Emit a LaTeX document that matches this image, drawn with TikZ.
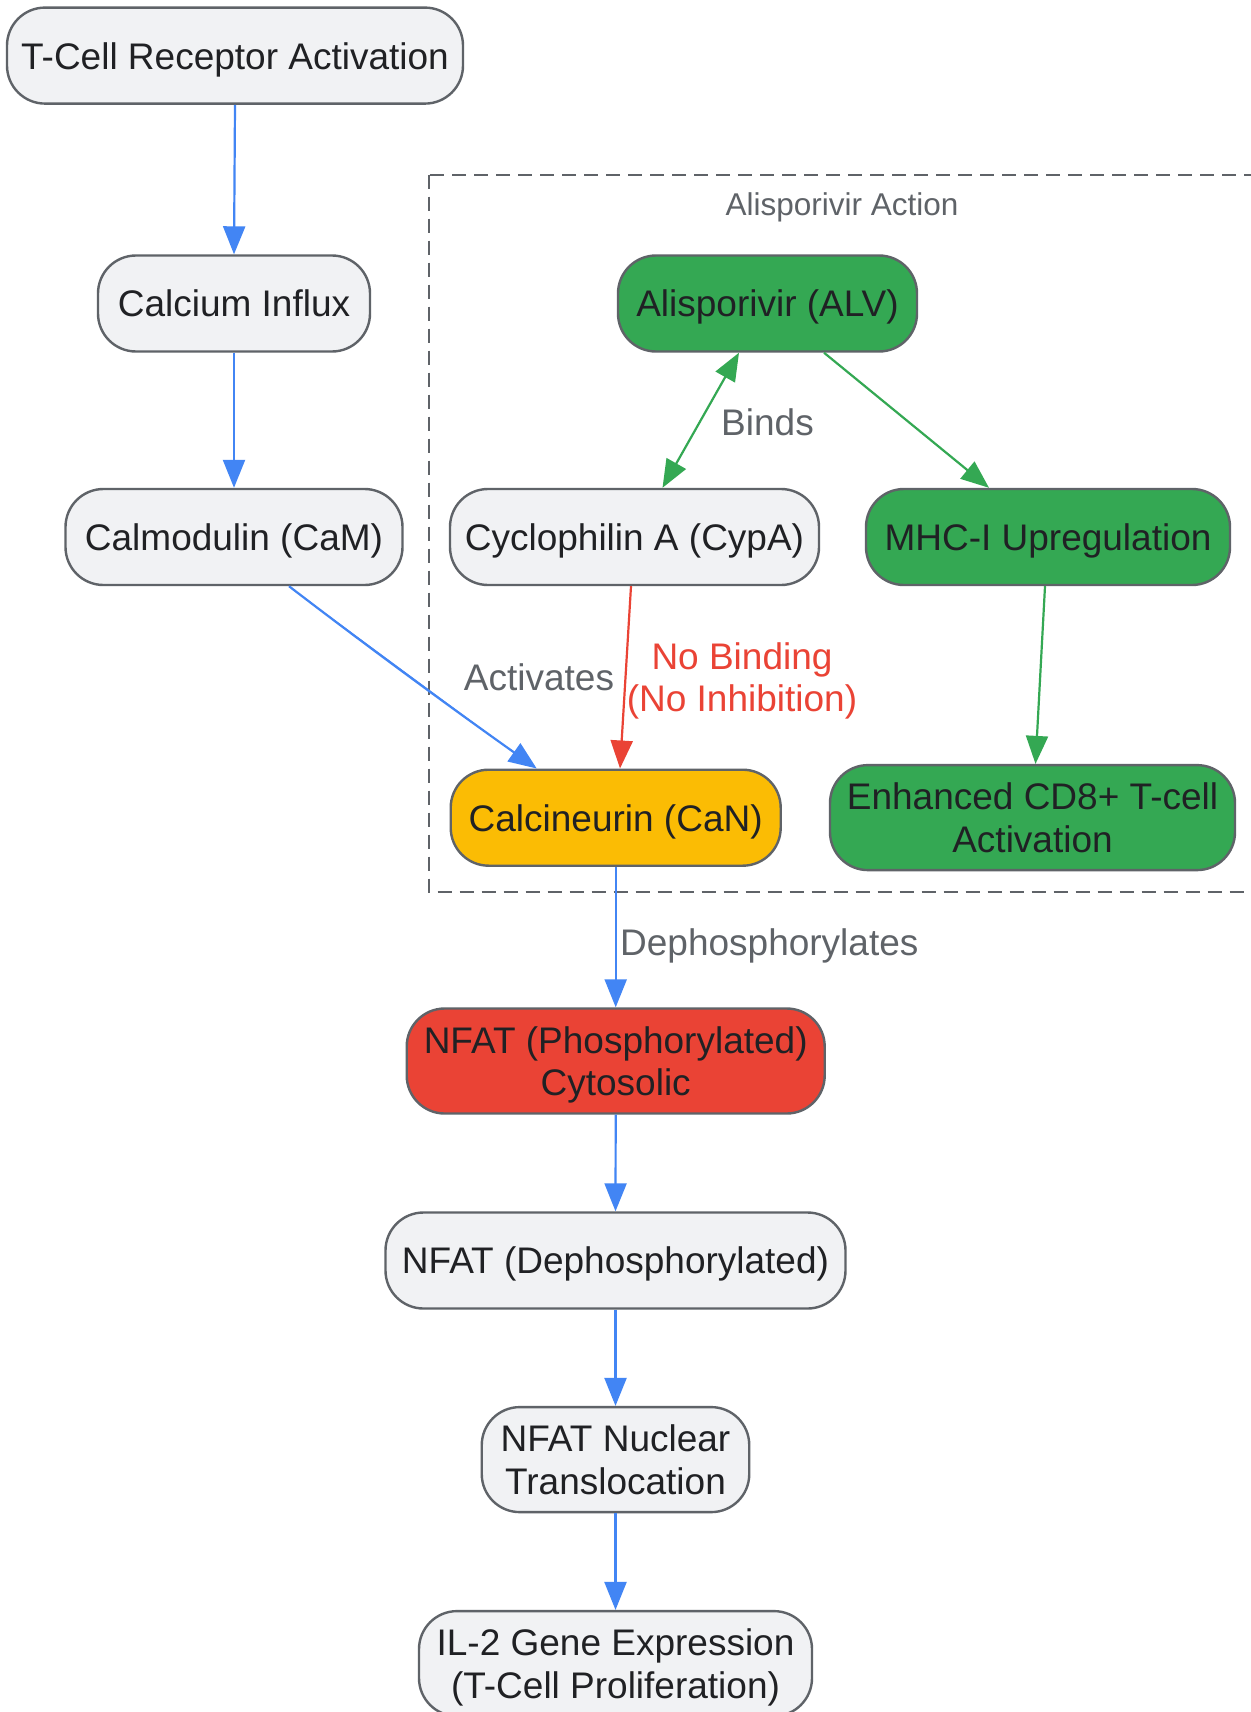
\documentclass[tikz,border=0pt]{standalone}
\usepackage{fontspec}
\setmainfont{Liberation Sans}
\usetikzlibrary{arrows.meta}
\definecolor{nfill}{HTML}{F1F2F4}
\definecolor{nborder}{HTML}{5F6368}
\definecolor{ntext}{HTML}{202124}
\definecolor{gblue}{HTML}{4285F4}
\definecolor{ggreen}{HTML}{34A853}
\definecolor{gyellow}{HTML}{FBBC04}
\definecolor{gred}{HTML}{EA4335}
\definecolor{lgray}{HTML}{5F6368}
\tikzset{
  box/.style={draw=nborder, line width=2.4pt, rounded corners=38pt, fill=nfill,
    text=ntext, align=center, inner sep=0pt, text depth=0pt, font=\fontsize{37}{42.5}\selectfont},
  greenbox/.style={box, fill=ggreen},
  yellowbox/.style={box, fill=gyellow},
  redbox/.style={box, fill=gred},
  conn/.style={line width=2.2pt, -{Triangle[length=28pt,width=22pt]}},
  blueconn/.style={conn, draw=gblue, fill=gblue},
  greenconn/.style={conn, draw=ggreen, fill=ggreen},
  redconn/.style={conn, draw=gred, fill=gred},
  elabel/.style={text=lgray, font=\fontsize{37}{42.5}\selectfont, inner sep=0pt, text depth=0pt, align=center},
}
\begin{document}
\begin{tikzpicture}[x=1pt,y=-1pt]
\useasboundingbox (0,0) rectangle (1250,1712);
\fill[white] (0,0) rectangle (1250,1712);

% cluster
\draw[nborder, line width=2.2pt, dash pattern=on 14pt off 8pt] (429,174.7) rectangle (1270,892);
\node[text=lgray, font=\fontsize{31.5}{36}\selectfont, inner sep=0pt, text depth=0pt] (clabel) at (842,204) {Alisporivir Action};

% nodes
\node[box, minimum width=456pt, minimum height=96pt] (tcr) at (235,55.6) {T-Cell Receptor Activation};
\node[box, minimum width=272pt, minimum height=96pt] (ca) at (234,303.5) {Calcium Influx};
\node[box, minimum width=337pt, minimum height=96pt] (cam) at (234,537) {Calmodulin (CaM)};
\node[greenbox, minimum width=299pt, minimum height=96pt] (alv) at (767.5,303.5) {Alisporivir (ALV)};
\node[box, minimum width=369pt, minimum height=96pt] (cypa) at (634.5,537) {Cyclophilin A (CypA)};
\node[greenbox, minimum width=364pt, minimum height=96pt] (mhc) at (1048,537) {MHC-I Upregulation};
\node[yellowbox, minimum width=330pt, minimum height=96pt] (can) at (615.7,817.7) {Calcineurin (CaN)};
\node[greenbox, minimum width=405pt, minimum height=105pt] (enh) at (1032.5,817.6) {Enhanced CD8+ T-cell\\Activation};
\node[redbox, minimum width=418pt, minimum height=105pt] (nfp) at (615.7,1061) {NFAT (Phosphorylated)\\Cytosolic};
\node[box, minimum width=460pt, minimum height=96pt] (nfd) at (615.5,1260.5) {NFAT (Dephosphorylated)};
\node[box, minimum width=267.5pt, minimum height=105pt] (nuc) at (615.5,1459.6) {NFAT Nuclear\\Translocation};
\node[box, minimum width=393pt, minimum height=105pt] (il2) at (615.5,1663.6) {IL-2 Gene Expression\\(T-Cell Proliferation)};

% connectors
\draw[blueconn] (tcr.south) -- (ca.north);
\draw[blueconn] (ca.south) -- (cam.north);
\draw[blueconn] ([xshift=55pt]cam.south) .. controls (380,656) and (460,714) .. ([xshift=-79pt]can.north);
\draw[redconn] ([xshift=-3.5pt]cypa.south) -- ([xshift=4.3pt]can.north);
\draw[greenconn, {Triangle[length=28pt,width=22pt]}-{Triangle[length=28pt,width=22pt]}] ([xshift=-28.5pt]alv.south) -- ([xshift=28pt]cypa.north);
\draw[greenconn] ([xshift=56.5pt]alv.south) -- ([xshift=-59pt]mhc.north);
\draw[greenconn] ([xshift=-3pt]mhc.south) -- ([xshift=3pt]enh.north);
\draw[blueconn] (can.south) -- (nfp.north);
\draw[blueconn] (nfp.south) -- (nfd.north);
\draw[blueconn] (nfd.south) -- (nuc.north);
\draw[blueconn] (nuc.south) -- (il2.north);

% edge labels
\node[elabel] (lbinds) at (767.5,422.5) {Binds};
\node[elabel] (lact) at (539,677) {Activates};
\node[elabel, text=gred] (lnob) at (742,677) {No Binding\\(No Inhibition)};
\node[elabel, anchor=west] (ldeph) at (620,942) {Dephosphorylates};
\end{tikzpicture}
\end{document}
